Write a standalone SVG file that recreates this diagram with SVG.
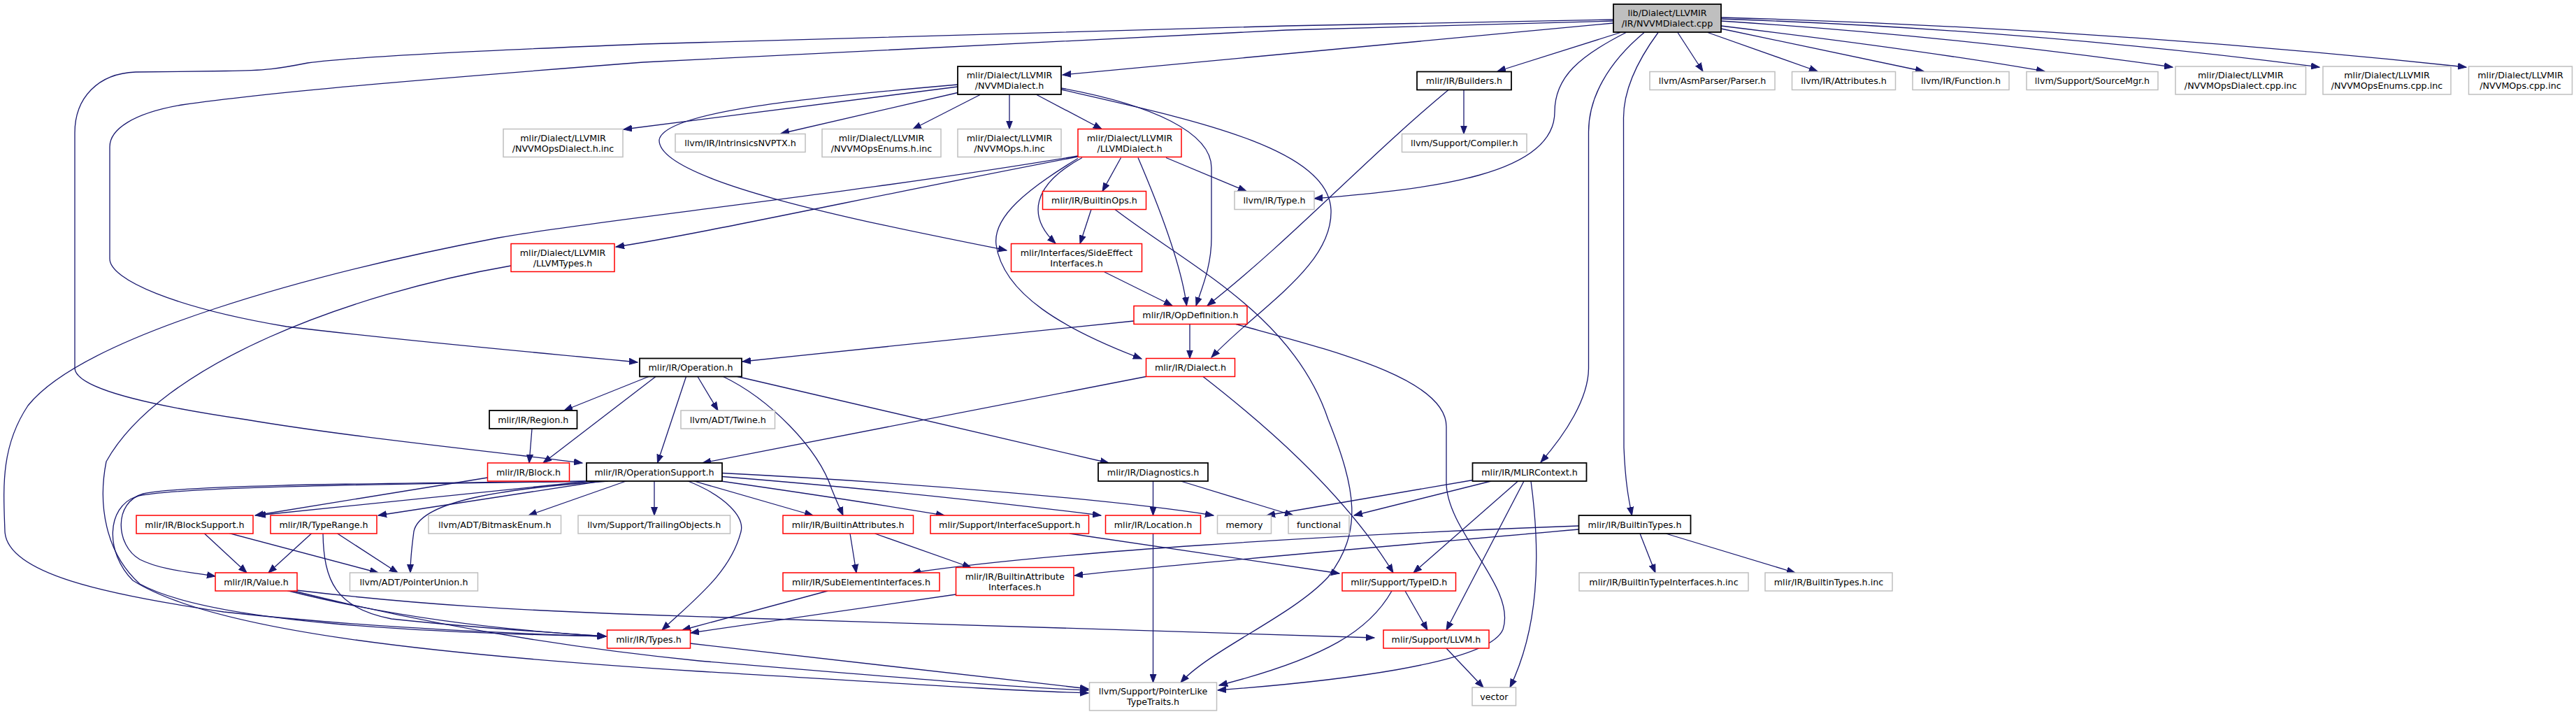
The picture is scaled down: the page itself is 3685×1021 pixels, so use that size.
<svg xmlns="http://www.w3.org/2000/svg" width="3685" height="1021" viewBox="0 0 3685 1021">
<defs>
<style>
.n rect{fill:#fff;stroke:#000;stroke-width:1.8}
.r rect{stroke:#ff0000;stroke-width:1.5}
.g rect{stroke:#bfbfbf;stroke-width:1.5}
.root rect{fill:#bfbfbf}
text{font-family:"DejaVu Sans",sans-serif;font-size:12.7px;text-anchor:middle;fill:#000}
#edges path{fill:none;stroke:#191970;stroke-width:1.3;marker-end:url(#a)}
</style>
<marker id="a" markerWidth="14" markerHeight="10" refX="12" refY="5" orient="auto" markerUnits="userSpaceOnUse"><path d="M0,0.5 L12,5 L0,9.5 z" fill="#191970" stroke="#191970" stroke-width="1"/></marker>
</defs>
<rect width="3685" height="1021" fill="#fff"/>
<g id="edges">
<path d="M2308,33 L1520,107"/>
<path d="M2308,28 L1840,37 L920,63 C700,72 520,80 440,90 C400,98 380,101 323,101.5 L194,103 C140,105 107,140 107,190 L107,526 C107,560 250,585 352,600 C500,625 700,645 833,662"/>
<path d="M2308,30 L1840,43 L920,89 C650,110 400,130 260,150 C190,162 157,185 157,210 L157,370 C157,400 250,440 410,467 C600,490 780,505 912,518"/>
<path d="M2318,46.5 L2142,102"/>
<path d="M2326,46.5 C2260,80 2224,110 2224,160 C2224,250 2050,270 1880,284"/>
<path d="M2400,46.5 L2436,102"/>
<path d="M2443,46.5 L2600,102"/>
<path d="M2462,41 L2752,102"/>
<path d="M2462,37 Q2760,73 2925,102"/>
<path d="M2462,30 Q2800,52 3108,96"/>
<path d="M2462,27 Q2900,42 3318,96"/>
<path d="M2462,25 Q3000,40 3528,96"/>
<path d="M2352,46.5 C2300,90 2272,140 2272.5,190 L2272.5,527 C2272,570 2240,620 2204,661"/>
<path d="M2372,46.5 C2340,90 2322,130 2322.5,170 L2323,640 C2325,690 2330,715 2334.5,737"/>
<path d="M1370,124 L892,185"/>
<path d="M1370,132.5 L1117,191"/>
<path d="M1402,135.5 L1306,184.5"/>
<path d="M1444,135.5 L1444,184.5"/>
<path d="M1483,135.5 L1576,184.5"/>
<path d="M1370,121 C1150,140 950,160 943,200 C940,260 1250,320 1440,358"/>
<path d="M1518,126 C1650,150 1733,190 1733,240 L1733,340 C1733,380 1720,410 1711,437"/>
<path d="M1518,128 C1700,170 1900,210 1904,300 C1907,380 1800,440 1733,511"/>
<path d="M1542,224 C1250,280 1000,335 881,353"/>
<path d="M1542,223 C1200,280 850,315 713,340 C450,390 120,480 40,580 C0,640 5,700 7,760 C10,820 150,850 320,875 C500,895 700,905 866,910"/>
<path d="M1548,225.5 C1475,265 1470,310 1510,348"/>
<path d="M1542,226.5 C1470,270 1420,310 1425,350 C1435,420 1520,470 1633,513"/>
<path d="M1603.5,225.5 L1577,273.5"/>
<path d="M1628,225.5 C1660,300 1690,380 1697.5,437"/>
<path d="M1668,225.5 L1783,273.5"/>
<path d="M1561,299.5 L1545,348.5"/>
<path d="M1595,299.5 C1700,380 1850,450 1900,600 C1940,700 1950,760 1900,825 C1850,880 1730,930 1689,976"/>
<path d="M2072,128.5 C1950,230 1850,340 1727,437"/>
<path d="M2094,128.5 L2094,191.5"/>
<path d="M1580,389 L1677,437"/>
<path d="M1622,459 L1062,517"/>
<path d="M1702,463.5 L1702,512.5"/>
<path d="M1768,463.5 C1900,500 2069,540 2069,610 L2069,690 C2069,760 2170,840 2150,900 C2130,950 1900,975 1742,987"/>
<path d="M1639.5,538.5 L1005,662"/>
<path d="M1721,538.5 C1800,600 1920,700 1993,819"/>
<path d="M928,538.5 L807,587"/>
<path d="M938,538.5 L777,662"/>
<path d="M981.5,538.5 L940.5,662"/>
<path d="M998,538.5 L1027,587"/>
<path d="M1034.5,538.5 C1100,570 1170,640 1190,700 C1198,720 1203,730 1206,737"/>
<path d="M1055,538.5 L1586,662"/>
<path d="M761,613 L757,662"/>
<path d="M697.5,683 L365,737"/>
<path d="M845,688 L368,737"/>
<path d="M860,688 L541,737"/>
<path d="M870,688 C700,700 600,720 592,760 C588,790 587,805 587,819"/>
<path d="M897,687.5 L756,737"/>
<path d="M936,687.5 L936,737"/>
<path d="M846,688 C600,691 270,692 205,706 C162,718 165,780 200,800 C230,815 270,818 308,824"/>
<path d="M850,688 C600,692 250,695 195,710 C152,725 150,790 190,830 C300,900 600,935 1000,960 C1300,978 1450,988 1557,991"/>
<path d="M983,687.5 C1040,710 1065,740 1060,760 C1045,820 990,860 947,901"/>
<path d="M993,688 L1163,737"/>
<path d="M1028,687.5 C1150,705 1250,720 1351,737"/>
<path d="M1033,681.5 C1200,695 1400,715 1575,737"/>
<path d="M1033,676.5 C1300,690 1600,715 1736,737"/>
<path d="M1649.5,688 L1649.5,737"/>
<path d="M1689,688 L1850,737"/>
<path d="M2107,686.5 L1812,737"/>
<path d="M2133,688 L1937,737"/>
<path d="M2171.5,688 L2022,819"/>
<path d="M2180,688 L2069,901"/>
<path d="M2190,688 C2205,800 2200,900 2160,983"/>
<path d="M2258.5,752 C1900,765 1500,790 1305,819"/>
<path d="M2258.5,757 C2000,780 1700,805 1537,823"/>
<path d="M2346,763 L2368,819"/>
<path d="M2383,763 L2568,819"/>
<path d="M1216,763 L1225,819"/>
<path d="M1251.5,763 L1389,811.5"/>
<path d="M1184,845 L976,901"/>
<path d="M1367.5,850 L988,905"/>
<path d="M1530,763 L1916,820"/>
<path d="M1649.5,763 L1649.5,976"/>
<path d="M987,920 L1557,985"/>
<path d="M2010,845 L2042,901"/>
<path d="M1991,845 C1960,900 1900,940 1744,980"/>
<path d="M2069,927 L2122,983"/>
<path d="M411,844.5 C550,880 700,900 867,910"/>
<path d="M424,844 C600,865 750,873 920,879 C1300,892 1700,904 1966,912"/>
<path d="M420,845 C600,890 800,925 1000,945 C1300,970 1450,983 1557,987"/>
<path d="M292,762.5 L353,819"/>
<path d="M328,762.5 L541,819"/>
<path d="M446,762.5 L384,819"/>
<path d="M482,762.5 L569,819"/>
<path d="M462,762.5 C463,830 480,870 560,885 C700,900 800,905 867,910"/>
<path d="M731,380 C500,420 230,520 152,660 C140,720 150,790 200,835 C300,890 600,905 867,910"/>
</g>
<g id="n_root" class="n root"><rect x="2308" y="6" width="154" height="40"/><text x="2385" y="23">lib/Dialect/LLVMIR</text><text x="2385" y="38">/IR/NVVMDialect.cpp</text></g>
<g id="n_nvvmdialect" class="n"><rect x="1370" y="95" width="148" height="40"/><text x="1444" y="112">mlir/Dialect/LLVMIR</text><text x="1444" y="127">/NVVMDialect.h</text></g>
<g id="n_builders" class="n"><rect x="2027" y="102.5" width="135" height="26"/><text x="2094.5" y="120">mlir/IR/Builders.h</text></g>
<g id="n_parser" class="n g"><rect x="2360" y="102.5" width="179" height="26"/><text x="2449.5" y="120">llvm/AsmParser/Parser.h</text></g>
<g id="n_attributes" class="n g"><rect x="2563.5" y="102.5" width="148" height="26"/><text x="2637.5" y="120">llvm/IR/Attributes.h</text></g>
<g id="n_function" class="n g"><rect x="2736" y="102.5" width="138" height="26"/><text x="2805" y="120">llvm/IR/Function.h</text></g>
<g id="n_sourcemgr" class="n g"><rect x="2899" y="102.5" width="188" height="26"/><text x="2993" y="120">llvm/Support/SourceMgr.h</text></g>
<g id="n_opsdialectcpp" class="n g"><rect x="3112" y="95" width="186.5" height="40"/><text x="3205.25" y="112">mlir/Dialect/LLVMIR</text><text x="3205.25" y="127">/NVVMOpsDialect.cpp.inc</text></g>
<g id="n_opsenumscpp" class="n g"><rect x="3323" y="95" width="183" height="40"/><text x="3414.5" y="112">mlir/Dialect/LLVMIR</text><text x="3414.5" y="127">/NVVMOpsEnums.cpp.inc</text></g>
<g id="n_opscpp" class="n g"><rect x="3531.5" y="95" width="148" height="40"/><text x="3605.5" y="112">mlir/Dialect/LLVMIR</text><text x="3605.5" y="127">/NVVMOps.cpp.inc</text></g>
<g id="n_opsdialecth" class="n g"><rect x="720" y="184.5" width="171" height="40"/><text x="805.5" y="201.5">mlir/Dialect/LLVMIR</text><text x="805.5" y="216.5">/NVVMOpsDialect.h.inc</text></g>
<g id="n_intrinsics" class="n g"><rect x="966" y="191.5" width="186" height="26"/><text x="1059" y="209">llvm/IR/IntrinsicsNVPTX.h</text></g>
<g id="n_opsenumsh" class="n g"><rect x="1176" y="184.5" width="170" height="40"/><text x="1261" y="201.5">mlir/Dialect/LLVMIR</text><text x="1261" y="216.5">/NVVMOpsEnums.h.inc</text></g>
<g id="n_opsh" class="n g"><rect x="1370" y="184.5" width="148" height="40"/><text x="1444" y="201.5">mlir/Dialect/LLVMIR</text><text x="1444" y="216.5">/NVVMOps.h.inc</text></g>
<g id="n_llvmdialect" class="n r"><rect x="1542" y="184.5" width="148" height="40"/><text x="1616" y="201.5">mlir/Dialect/LLVMIR</text><text x="1616" y="216.5">/LLVMDialect.h</text></g>
<g id="n_compiler" class="n g"><rect x="2005.5" y="191.5" width="178.5" height="26"/><text x="2094.75" y="209">llvm/Support/Compiler.h</text></g>
<g id="n_builtinops" class="n r"><rect x="1491.5" y="273.5" width="148" height="26"/><text x="1565.5" y="291">mlir/IR/BuiltinOps.h</text></g>
<g id="n_type" class="n g"><rect x="1766" y="273.5" width="114" height="26"/><text x="1823" y="291">llvm/IR/Type.h</text></g>
<g id="n_llvmtypes" class="n r"><rect x="731" y="348.5" width="148" height="40"/><text x="805" y="365.5">mlir/Dialect/LLVMIR</text><text x="805" y="380.5">/LLVMTypes.h</text></g>
<g id="n_sideeffect" class="n r"><rect x="1446.5" y="348.5" width="187" height="40"/><text x="1540" y="365.5">mlir/Interfaces/SideEffect</text><text x="1540" y="380.5">Interfaces.h</text></g>
<g id="n_opdefinition" class="n r"><rect x="1622" y="437.5" width="162" height="26"/><text x="1703" y="455">mlir/IR/OpDefinition.h</text></g>
<g id="n_operation" class="n"><rect x="915" y="512.5" width="146" height="26"/><text x="988" y="530">mlir/IR/Operation.h</text></g>
<g id="n_dialect" class="n r"><rect x="1639.5" y="512.5" width="127" height="26"/><text x="1703" y="530">mlir/IR/Dialect.h</text></g>
<g id="n_region" class="n"><rect x="700" y="587" width="125.5" height="26"/><text x="762.75" y="604.5">mlir/IR/Region.h</text></g>
<g id="n_twine" class="n g"><rect x="974" y="587" width="134.5" height="26"/><text x="1041.25" y="604.5">llvm/ADT/Twine.h</text></g>
<g id="n_block" class="n r"><rect x="697.5" y="662" width="117" height="26"/><text x="756" y="679.5">mlir/IR/Block.h</text></g>
<g id="n_opsupport" class="n"><rect x="839" y="662" width="194" height="26"/><text x="936" y="679.5">mlir/IR/OperationSupport.h</text></g>
<g id="n_diagnostics" class="n"><rect x="1571" y="662" width="157" height="26"/><text x="1649.5" y="679.5">mlir/IR/Diagnostics.h</text></g>
<g id="n_mlircontext" class="n"><rect x="2106.5" y="662" width="163" height="26"/><text x="2188" y="679.5">mlir/IR/MLIRContext.h</text></g>
<g id="n_blocksupport" class="n r"><rect x="195" y="737" width="167" height="26"/><text x="278.5" y="754.5">mlir/IR/BlockSupport.h</text></g>
<g id="n_typerange" class="n r"><rect x="387" y="737" width="152" height="26"/><text x="463" y="754.5">mlir/IR/TypeRange.h</text></g>
<g id="n_bitmask" class="n g"><rect x="613" y="737" width="189.5" height="26"/><text x="707.75" y="754.5">llvm/ADT/BitmaskEnum.h</text></g>
<g id="n_trailing" class="n g"><rect x="827" y="737" width="217.5" height="26"/><text x="935.75" y="754.5">llvm/Support/TrailingObjects.h</text></g>
<g id="n_builtinattrs" class="n r"><rect x="1120" y="737" width="186.5" height="26"/><text x="1213.25" y="754.5">mlir/IR/BuiltinAttributes.h</text></g>
<g id="n_ifsupport" class="n r"><rect x="1331" y="737" width="226.5" height="26"/><text x="1444.25" y="754.5">mlir/Support/InterfaceSupport.h</text></g>
<g id="n_location" class="n r"><rect x="1581.5" y="737" width="136" height="26"/><text x="1649.5" y="754.5">mlir/IR/Location.h</text></g>
<g id="n_memory" class="n g"><rect x="1741.5" y="737" width="77" height="26"/><text x="1780" y="754.5">memory</text></g>
<g id="n_functional" class="n g"><rect x="1843" y="737" width="87" height="26"/><text x="1886.5" y="754.5">functional</text></g>
<g id="n_builtintypes" class="n"><rect x="2258.5" y="737" width="160" height="26"/><text x="2338.5" y="754.5">mlir/IR/BuiltinTypes.h</text></g>
<g id="n_value" class="n r"><rect x="308" y="819" width="117" height="26"/><text x="366.5" y="836.5">mlir/IR/Value.h</text></g>
<g id="n_pointerunion" class="n g"><rect x="500.5" y="819" width="183" height="26"/><text x="592" y="836.5">llvm/ADT/PointerUnion.h</text></g>
<g id="n_subelement" class="n r"><rect x="1120" y="819" width="224" height="26"/><text x="1232" y="836.5">mlir/IR/SubElementInterfaces.h</text></g>
<g id="n_battrif" class="n r"><rect x="1367.5" y="811.5" width="168.5" height="40"/><text x="1451.75" y="828.5">mlir/IR/BuiltinAttribute</text><text x="1451.75" y="843.5">Interfaces.h</text></g>
<g id="n_typeid" class="n r"><rect x="1920" y="819" width="162.5" height="26"/><text x="2001.25" y="836.5">mlir/Support/TypeID.h</text></g>
<g id="n_btypeifinc" class="n g"><rect x="2259" y="819" width="242" height="26"/><text x="2380" y="836.5">mlir/IR/BuiltinTypeInterfaces.h.inc</text></g>
<g id="n_btypesinc" class="n g"><rect x="2525" y="819" width="182" height="26"/><text x="2616" y="836.5">mlir/IR/BuiltinTypes.h.inc</text></g>
<g id="n_types" class="n r"><rect x="868.5" y="901" width="119" height="26"/><text x="928" y="918.5">mlir/IR/Types.h</text></g>
<g id="n_llvmh" class="n r"><rect x="1979" y="901" width="151" height="26"/><text x="2054.5" y="918.5">mlir/Support/LLVM.h</text></g>
<g id="n_pltt" class="n g"><rect x="1558.5" y="976" width="182" height="40"/><text x="1649.5" y="993">llvm/Support/PointerLike</text><text x="1649.5" y="1008">TypeTraits.h</text></g>
<g id="n_vector" class="n g"><rect x="2106" y="983" width="62.5" height="26"/><text x="2137.25" y="1000.5">vector</text></g>
</svg>
